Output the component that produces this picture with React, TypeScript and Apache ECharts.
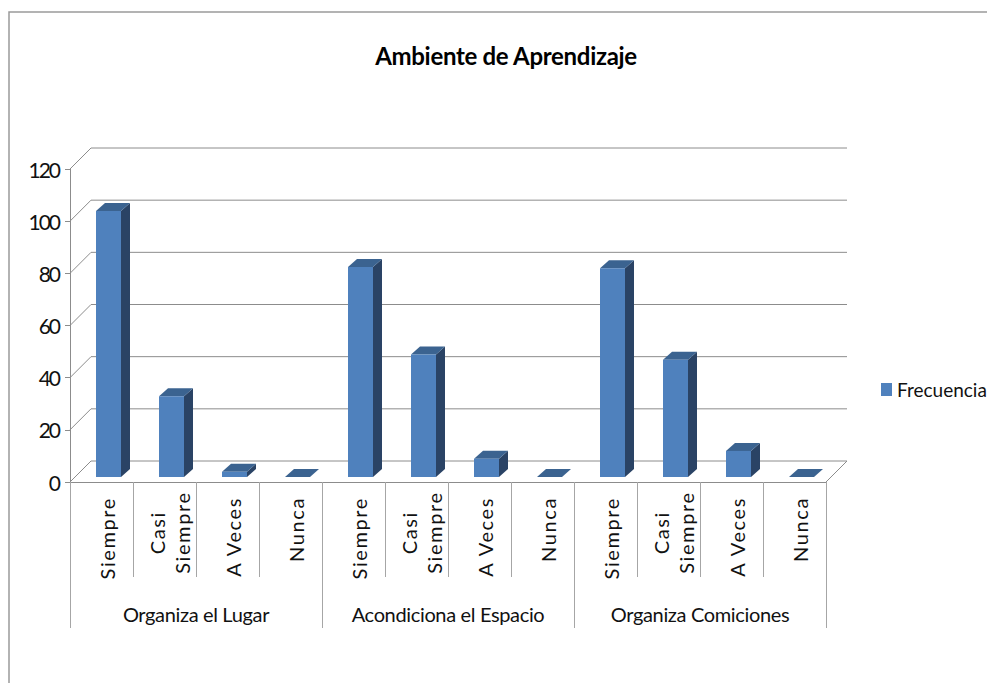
import React, { useEffect, useRef } from "react";
import * as echarts from "echarts";

const title = "Ambiente de Aprendizaje";
const seriesName = "Frecuencia";
const categories = [
  "Siempre", "Casi Siempre", "A Veces", "Nunca",
  "Siempre", "Casi Siempre", "A Veces", "Nunca",
  "Siempre", "Casi Siempre", "A Veces", "Nunca",
];
const groups = ["Organiza el Lugar", "Acondiciona el Espacio", "Organiza Comiciones"];
const values = [102, 31, 2, 0, 80.5, 47, 7, 0, 80, 45, 10, 0];
const yTicks = [0, 20, 40, 60, 80, 100, 120];

const FONT = 'Lato, "Noto Sans", sans-serif';
const GRID_COLOR = "#8c8c8c";
const WALL = 21;

export default function App() {
  const ref = useRef<HTMLDivElement>(null);
  useEffect(() => {
    document.body.style.margin = "0";
    const chart = echarts.init(ref.current!, null, { renderer: "svg" });
    chart.setOption({
      animation: false,
      backgroundColor: "#ffffff",
      title: {
        text: title,
        left: 501,
        top: 38,
        textAlign: "center",
        textStyle: { fontFamily: FONT, fontSize: 24, fontWeight: "bold", color: "#000" },
      },
      legend: {
        data: [seriesName],
        left: 876,
        top: 375,
        icon: "rect",
        itemWidth: 11,
        itemHeight: 13,
        itemGap: 0,
        textStyle: { fontFamily: FONT, fontSize: 19, color: "#111" },
      },
      graphic: [
        {
          type: "polyline",
          silent: true,
          shape: { points: [[9, 683], [9, 12], [987, 12]] },
          style: { stroke: "#9a9a9a", lineWidth: 1.5, fill: "none" },
        },
      ],
      grid: { left: 70, right: 161, top: 169, bottom: 201, containLabel: false },
      xAxis: [
        {
          type: "category",
          position: "bottom",
          data: categories,
          axisLine: { show: true, lineStyle: { color: GRID_COLOR } },
          axisTick: { show: true, interval: 0, length: 95, lineStyle: { color: "#a6a6a6" } },
          axisLabel: {
            interval: 0,
            rotate: 90,
            margin: 15,
            color: "#111",
            fontFamily: FONT,
            fontSize: 20,
            padding: [10, 0, 0, 0],
            formatter: (v: string) =>
              v.split(" ").length > 1 && v !== "A Veces"
                ? v.split(" ").map((w) => `{c|${w}}`).join("\n")
                : v,
            rich: {
              c: { align: "center", fontFamily: FONT, fontSize: 20, color: "#111", lineHeight: 25 },
            },
          },
        },
        {
          type: "category",
          position: "bottom",
          data: groups,
          axisLine: { show: false },
          axisTick: { show: true, interval: 0, length: 146, lineStyle: { color: "#a6a6a6" } },
          axisLabel: {
            interval: 0,
            margin: 122,
            color: "#111",
            fontFamily: FONT,
            fontSize: 20,
          },
        },
      ],
      yAxis: {
        type: "value",
        min: 0,
        max: 120,
        interval: 20,
        axisLine: { show: true, lineStyle: { color: GRID_COLOR } },
        axisTick: { show: true, length: 5, lineStyle: { color: GRID_COLOR } },
        splitLine: { show: false },
        axisLabel: { margin: 11, color: "#111", fontFamily: FONT, fontSize: 21, padding: [6, 0, 0, 0] },
      },
      series: [
        {
          type: "custom",
          name: "walls",
          xAxisIndex: 0,
          silent: true,
          clip: false,
          z: 1,
          data: yTicks.map((v) => [0, v]),
          renderItem: (params: any, api: any) => {
            const y = api.coord([0, api.value(1)])[1];
            const x0 = params.coordSys.x;
            const x1 = x0 + params.coordSys.width;
            const style = { stroke: GRID_COLOR, lineWidth: 1, fill: "none" };
            const children: any[] = [
              { type: "polyline", shape: { points: [[x0, y], [x0 + WALL, y - WALL], [x1 + WALL, y - WALL]] }, style },
            ];
            if (api.value(1) === 0) {
              children.push({ type: "line", shape: { x1, y1: y, x2: x1 + WALL, y2: y - WALL }, style });
            }
            return { type: "group", children };
          },
        },
        {
          type: "custom",
          name: "groupsAxis",
          xAxisIndex: 1,
          silent: true,
          z: 0,
          data: groups.map((_, i) => [i, 0]),
          renderItem: () => ({ type: "group", children: [] }),
        },
        {
          type: "custom",
          name: seriesName,
          xAxisIndex: 0,
          clip: false,
          z: 3,
          itemStyle: { color: "#4F81BD" },
          encode: { x: 0, y: 1 },
          data: values.map((v, i) => [i, v]),
          renderItem: (_: any, api: any) => {
            const base = api.coord([api.value(0), 0]);
            const top = api.coord([api.value(0), api.value(1)]);
            const w = 25;
            const dx = 9;
            const dy = 8;
            const x = base[0] - 5.5;
            const by = base[1] - 5;
            const ty = top[1] - 5;
            const children: any[] = [];
            children.push({
              type: "polygon",
              shape: { points: [[x + w, by], [x + w + dx, by - dy], [x + w + dx, ty - dy], [x + w, ty]] },
              style: { fill: "#2A4365" },
            });
            children.push({
              type: "polygon",
              shape: { points: [[x, ty], [x + dx, ty - dy], [x + w + dx, ty - dy], [x + w, ty]] },
              style: { fill: "#3B6390" },
            });
            if (by - ty > 0) {
              children.push({
                type: "rect",
                shape: { x, y: ty, width: w, height: by - ty },
                style: { fill: "#4F81BD" },
              });
            }
            return { type: "group", children };
          },
        },
      ],
    });
    const spacing = (s: string) => {
      if (["Siempre", "Casi", "A Veces", "Nunca"].includes(s)) return "1.6px";
      if (groups.includes(s)) return "-0.35px";
      if (s === title) return "-0.3px";
      if (/^\d+$/.test(s)) return "-2px";
      return "";
    };
    ref.current!.querySelectorAll("text").forEach((t) => {
      const v = spacing((t.textContent || "").trim());
      if (v) t.style.letterSpacing = v;
    });
    return () => chart.dispose();
  }, []);
  return <div ref={ref} style={{ width: 987, height: 683 }} />;
}
